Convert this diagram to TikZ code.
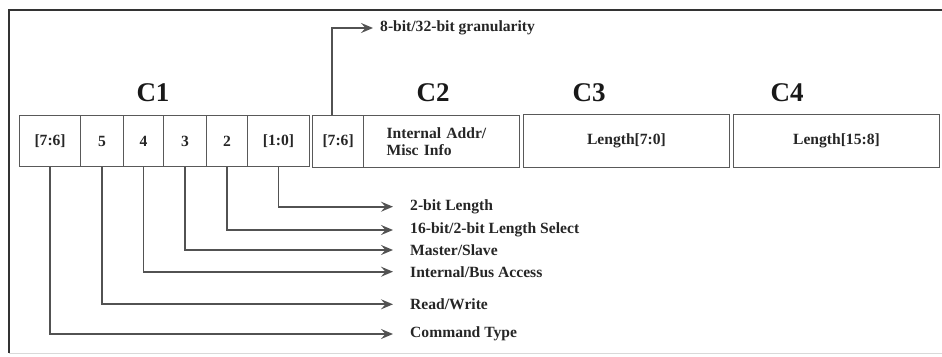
\documentclass[tikz,border=0pt]{standalone}
\usepackage{fontspec}
\setmainfont{Liberation Serif}
\usetikzlibrary{positioning,arrows.meta}

\tikzset{
  cell/.style={draw=black!65, line width=1.2pt, minimum height=51pt, inner sep=0pt,
    anchor=north west, font=\fontsize{15.6}{17}\selectfont\bfseries, text=black!85},
  head/.style={font=\fontsize{27}{30}\selectfont\bfseries, text=black!90},
  field/.style={anchor=west, inner sep=0pt, font=\fontsize{15.6}{17}\selectfont\bfseries, text=black!85},
  pointer/.style={draw=black!68, line width=1.8pt,
    -{Stealth[length=12pt,width=10pt,inset=4.5pt]}, shorten >=17pt},
}

\begin{document}
\begin{tikzpicture}[x=1pt,y=-1pt]
        \useasboundingbox (0,0) rectangle (942,356);
        % frame
        \draw[black!80,line width=2pt] (942,10) -- (9,10) -- (9,353);
        \draw[black!15,line width=1pt] (9,353) -- (942,353);
        % headings
        \node[head] (hc1) at (153,93) {C1};
        \node[head] (hc2) at (433,93) {C2};
        \node[head] (hc3) at (589,93) {C3};
        \node[head] (hc4) at (787,93) {C4};
        % C1 bits
        \node[cell,minimum width=61pt] (f76) at (19,115) {[7:6]};
        \node[cell,minimum width=42.7pt] (f5) at (80,115) {5};
        \node[cell,minimum width=40.3pt] (f4) at (122.7,115) {4};
        \node[cell,minimum width=43pt] (f3) at (163,115) {3};
        \node[cell,minimum width=40.7pt] (f2) at (206,115) {2};
        \node[cell,minimum width=62.3pt] (f10) at (246.7,115) {[1:0]};
        % C2, C3, C4
        \node[cell,minimum width=51pt,minimum height=52pt] (g76) at (312,115) {[7:6]};
        \node[cell,minimum width=156pt,minimum height=52pt,text width=110pt,align=left] (gaddr) at (363,115) {Internal Addr/\\Misc Info};
        \node[cell,minimum width=206.3pt,minimum height=53pt] (len70) at (522.7,114) {Length[7:0]};
        \node[cell,minimum width=206.3pt,minimum height=53pt] (len158) at (732.7,114) {Length[15:8]};
        % field names
        \node[field] (lgran) at (380,28) {8-bit/32-bit granularity};
        \node[field] (l10) at (410,206.7) {2-bit Length};
        \node[field] (l2) at (410,230) {16-bit/2-bit Length Select};
        \node[field] (l3) at (410,250) {Master/Slave};
        \node[field] (l4) at (410,271.7) {Internal/Bus Access};
        \node[field] (l5) at (410,304.3) {Read/Write};
        \node[field] (l76) at (410,334) {Command Type};
        % connectors
        \draw[pointer,shorten >=7pt] ([xshift=-6pt]g76.north) |- (lgran.west);
        \foreach \c/\l in {f10/l10,f2/l2,f3/l3,f4/l4,f5/l5,f76/l76} {
            \draw[pointer] (\c.south) |- (\l.west);
        }
    \end{tikzpicture}
\end{document}
